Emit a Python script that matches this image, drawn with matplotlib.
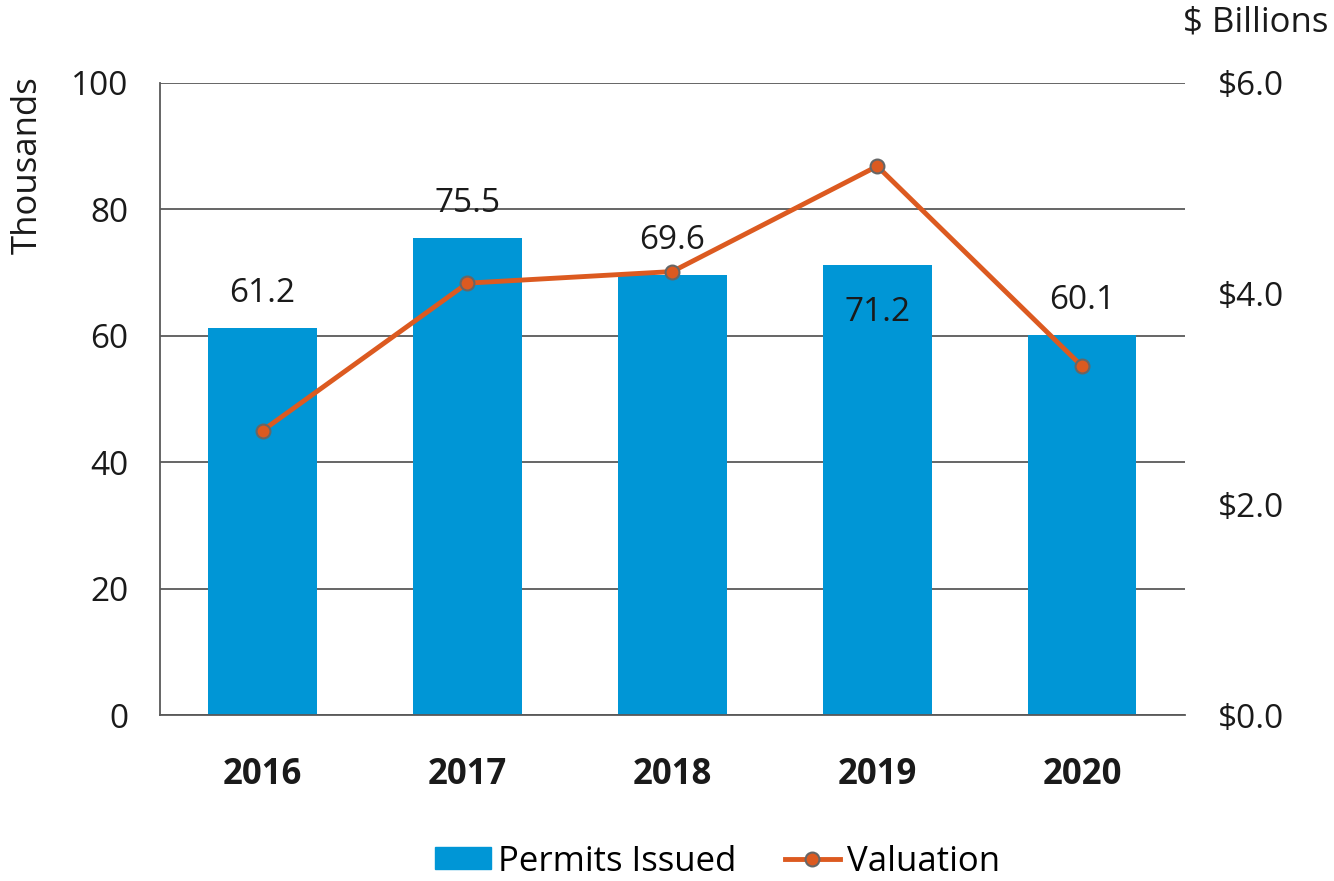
import numpy as np
import matplotlib
matplotlib.use("Agg")
import matplotlib.pyplot as plt
from matplotlib.lines import Line2D
from matplotlib.patches import Patch

years = ["2016", "2017", "2018", "2019", "2020"]
permits = [61.2, 75.5, 69.6, 71.2, 60.1]          # thousands
valuation = [2.70, 4.10, 4.21, 5.21, 3.31]        # $ billions
label_inside = [False, False, False, True, False]

bar_color = "#0096D6"
line_color = "#DC5A20"
grid_color = "#595959"
txt = "#1a1a1a"
fs = 24

plt.rcParams["font.family"] = ["Open Sans", "DejaVu Sans"]

fig = plt.figure(figsize=(13.34, 8.81), dpi=100)
ax = fig.add_axes([0.12, 0.1884, 0.768, 0.7174])
ax2 = ax.twinx()

x = np.arange(len(years))
ax.bar(x, permits, width=0.53, color=bar_color, zorder=2)
ax.set_xlim(-0.5, len(years) - 0.5)
ax.set_ylim(0, 100)
ax.set_yticks(np.arange(0, 101, 20))
ax.yaxis.grid(True, color=grid_color, linewidth=1.3, zorder=0)
ax.set_axisbelow(True)
ax.set_xticks(x)
ax.set_xticklabels(years, fontsize=25, fontweight="bold", color=txt)
ax.tick_params(axis="x", length=0, pad=30)
ax.tick_params(axis="y", length=0, labelsize=fs, pad=23, colors=txt)
for s in ["top", "right"]:
    ax.spines[s].set_visible(False)
for s in ["left", "bottom"]:
    ax.spines[s].set_color(grid_color)
    ax.spines[s].set_linewidth(1.3)
fig.text(28 / 1334, 1 - 165 / 881, "Thousands", rotation=90, ha="center", va="center",
         fontsize=25, color=txt)

for xi, v, inside in zip(x, permits, label_inside):
    if inside:
        ax.text(xi, v - 7.5, f"{v:.1f}", ha="center", va="center", fontsize=fs, color=txt, zorder=3)
    else:
        ax.text(xi, v + 5.5, f"{v:.1f}", ha="center", va="center", fontsize=fs, color=txt, zorder=3)

ax2.plot(x, valuation, color=line_color, linewidth=3.5, marker="o", markersize=10,
         markerfacecolor=line_color, markeredgecolor="#666666", markeredgewidth=1.5, zorder=4)
ax2.set_ylim(0, 6)
ax2.set_yticks(np.arange(0, 6.1, 2))
ax2.set_yticklabels([f"${v:.1f}" for v in np.arange(0, 6.1, 2)])
ax2.tick_params(axis="y", length=0, labelsize=fs, pad=24, colors=txt)
for s in ax2.spines.values():
    s.set_visible(False)
fig.text(0.996, 0.975, "$ Billions", ha="right", va="center", fontsize=25, color=txt)

handles = [Patch(color=bar_color, label="Permits Issued"),
           Line2D([0], [0], color=line_color, linewidth=3.5, marker="o", markersize=10,
                  markerfacecolor=line_color, markeredgecolor="#666666", markeredgewidth=1.5,
                  label="Valuation")]
fig.legend(handles=handles, loc="center", bbox_to_anchor=(0.538, 0.022), ncol=2, frameon=False,
           fontsize=25, handlelength=1.6, handleheight=0.6, handletextpad=0.2, columnspacing=1.4)

fig.savefig("out.png", dpi=100)
